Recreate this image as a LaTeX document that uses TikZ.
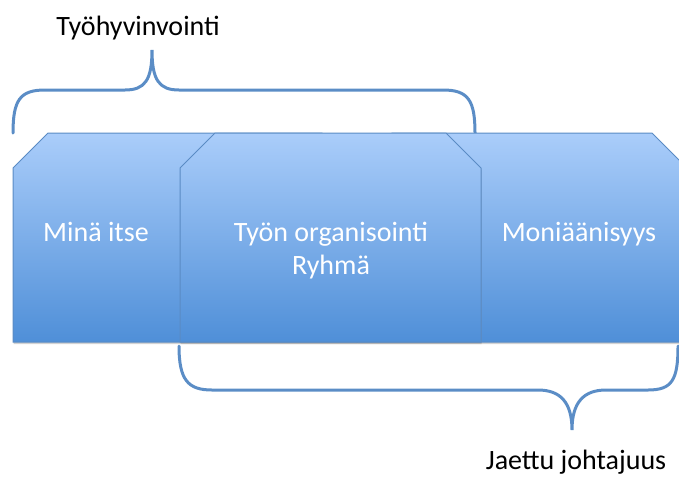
\documentclass[tikz,border=0pt]{standalone}
\usepackage{fontspec}
\setmainfont{Carlito}
\usetikzlibrary{shadows}
\definecolor{panelTop}{HTML}{AACDFA}
\definecolor{panelBottom}{HTML}{4F8FD8}
\definecolor{panelEdge}{HTML}{5A8BC4}
\definecolor{braceBlue}{HTML}{5B8DC6}
\begin{document}
\begin{tikzpicture}[x=1pt,y=-1pt,
  panel/.style={draw=panelEdge, line width=1pt, line join=miter,
    top color=panelTop, bottom color=panelBottom,
    drop shadow={opacity=0.35, shadow xshift=0.5pt, shadow yshift=-2pt}},
  brace/.style={draw=braceBlue, line width=3pt, line cap=round},
  inlabel/.style={text=white, font=\fontsize{28}{34}\selectfont, anchor=base},
  outlabel/.style={text=black, font=\fontsize{28}{34}\selectfont, anchor=base}]
\clip (0,0) rectangle (679,477);

% top brace, drawn first so the panels sit over its ends
\draw[brace] (13,133) .. controls (13,100) and (20,90) .. (45,90)
  -- (125,90) .. controls (145,90) and (152,80) .. (152,50)
  .. controls (152,80) and (159,90) .. (179,90)
  -- (443,90) .. controls (468,90) and (475,100) .. (475,133);

% panels with both upper corners cut
\path[panel] (13,342) -- (13,168) -- (48,133) -- (322,133) -- (357,168) -- (357,342) -- cycle;
\path[panel] (357,342) -- (357,168) -- (392,133) -- (652,133) -- (687,168) -- (687,342) -- cycle;
\path[panel] (180,342) -- (180,168) -- (215,133) -- (446,133) -- (481,168) -- (481,342) -- cycle;

% bottom brace
\draw[brace] (179,346) .. controls (179,380) and (188,390) .. (212,390)
  -- (538,390) .. controls (560,390) and (572,402) .. (572,430)
  .. controls (572,402) and (584,390) .. (606,390)
  -- (648,390) .. controls (672,390) and (678,380) .. (678,346);

% labels
\node[inlabel] (mina) at (96,241) {Minä itse};
\node[inlabel] (tyon) at (331,241) {Työn organisointi};
\node[inlabel] (ryhma) at (331,274) {Ryhmä};
\node[inlabel] (moni) at (579,241) {Moniäänisyys};
\node[outlabel] (hyvin) at (138,35) {Työhyvinvointi};
\node[outlabel] (jaettu) at (576,469) {Jaettu johtajuus};
\end{tikzpicture}
\end{document}
